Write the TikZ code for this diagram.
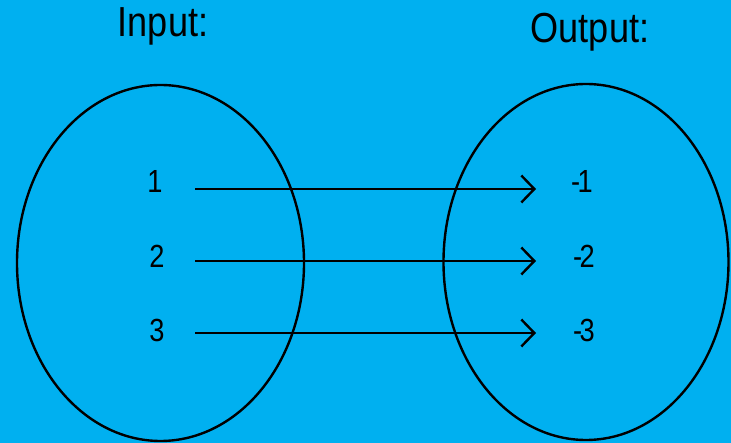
\documentclass[tikz,border=0pt]{standalone}
\usepackage{fontspec}
\setmainfont{Liberation Sans}
\usetikzlibrary{arrows.meta}
\definecolor{bgblue}{RGB}{0,176,240}
\begin{document}
\begin{tikzpicture}[x=1pt,y=-1pt,
  setshape/.style={draw=black,line width=2.4pt},
  title/.style={font=\fontsize{42}{42}\selectfont,xscale=0.86,anchor=base,inner sep=0pt},
  numlabel/.style={font=\fontsize{32}{32}\selectfont,xscale=0.85,anchor=base,inner sep=0pt},
  maparrow/.style={draw=black,line width=2.8pt,-{Straight Barb[length=13pt,width=27pt,line width=2.4pt]}}]
\fill[bgblue] (0,0) rectangle (731,443);
\useasboundingbox (0,0) rectangle (731,443);
\node[title] (tin) at (163,37) {Input:};
\node[title] (tout) at (590,43) {Output:};
\draw[setshape] (160.5,263) ellipse [x radius=143.5, y radius=178];
\draw[setshape] (586,262) ellipse [x radius=142.5, y radius=178];
\node[numlabel] (i1) at (155,193) {1};
\node[numlabel] (i2) at (157,268) {2};
\node[numlabel] (i3) at (157,342) {3};
\node[numlabel] (o1) at (582,193) {-\kern-3pt1};
\node[numlabel] (o2) at (584,268) {-\kern-3pt2};
\node[numlabel] (o3) at (584,342) {-\kern-3pt3};
\coordinate (s1) at (195,189); \coordinate (e1) at (536,189);
\coordinate (s2) at (195,261); \coordinate (e2) at (536,261);
\coordinate (s3) at (195,333); \coordinate (e3) at (536,333);
\draw[maparrow] (s1) -- (e1);
\draw[maparrow] (s2) -- (e2);
\draw[maparrow] (s3) -- (e3);
\end{tikzpicture}
\end{document}
